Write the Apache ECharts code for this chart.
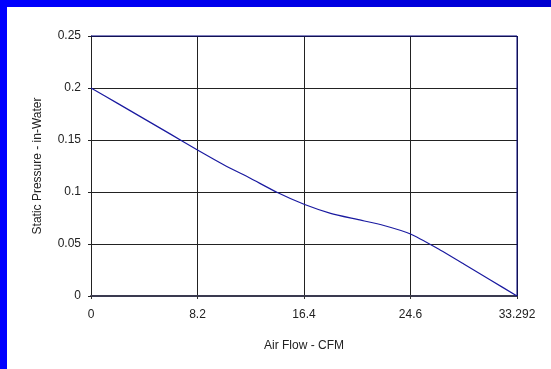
<!DOCTYPE html>
<html>
<head>
<meta charset="utf-8">
<script src="https://cdn.jsdelivr.net/npm/echarts@6/dist/echarts.min.js"></script>
<style>html,body{margin:0;padding:0;background:#fff;}#c{width:551px;height:369px;}</style>
</head>
<body>
<div id="c"></div>
<script>
const airFlow = ['0','2.05','4.1','6.15','8.2','10.25','12.3','14.35','16.4','18.45','20.5','22.55','24.6','26.65','28.7','30.75','33.292'];
const pressure = [0.200,0.1852,0.1703,0.1554,0.1404,0.126,0.113,0.0995,0.0882,0.0795,0.0736,0.0678,0.0596,0.0459,0.0308,0.0154,0];
const yTicks = [0,0.05,0.1,0.15,0.2,0.25];
const xTitle = 'Air Flow - CFM';
const yTitle = 'Static Pressure - in-Water';

const chart = echarts.init(document.getElementById('c'), null, {renderer:'canvas'});
const font = 'Liberation Sans, Arial, sans-serif';
chart.setOption({
  animation:false,
  backgroundColor:'#ffffff',
  graphic:[
    {type:'rect', left:0, top:0, shape:{width:7,height:369}, style:{fill:'#0000ff'}, z:10},
    {type:'rect', left:0, top:0, shape:{width:551,height:7}, style:{fill:new echarts.graphic.LinearGradient(0,0,1,0,[{offset:0,color:'#0000ff'},{offset:1,color:'#0000d0'}])}, z:10},
    {type:'line', shape:{x1:91,y1:36,x2:517,y2:36}, style:{stroke:'#000080',lineWidth:1}, z:5},
    {type:'line', shape:{x1:517,y1:36,x2:517,y2:296}, style:{stroke:'#000080',lineWidth:1}, z:5}
  ],
  grid:{left:91, top:36, width:426, height:260, containLabel:false},
  xAxis:{
    type:'category', data:airFlow, boundaryGap:false,
    name:xTitle, nameLocation:'middle', nameGap:44,
    nameTextStyle:{fontFamily:font,fontSize:12,color:'#222'},
    axisLine:{show:true,lineStyle:{color:'#3a3a50',width:2}},
    axisTick:{show:true,interval:3,length:3,inside:false,lineStyle:{color:'#333'}},
    axisLabel:{interval:3,margin:13,fontFamily:font,fontSize:12,color:'#222'},
    splitLine:{show:true,interval:3,lineStyle:{color:'#222',width:1}}
  },
  yAxis:{
    type:'value', min:yTicks[0], max:yTicks[yTicks.length-1], interval:0.05,
    name:yTitle, nameLocation:'middle', nameGap:47, nameRotate:90,
    nameTextStyle:{fontFamily:font,fontSize:12,color:'#222'},
    axisLine:{show:true,lineStyle:{color:'#222',width:1}},
    axisTick:{show:true,length:3,lineStyle:{color:'#222'}},
    axisLabel:{margin:10,fontFamily:font,fontSize:12,color:'#222',formatter:v=>String(+v.toFixed(2))},
    splitLine:{show:true,lineStyle:{color:'#222',width:1}}
  },
  series:[{
    type:'line', data:pressure, smooth:0.2, showSymbol:false, symbol:'none',
    lineStyle:{color:'#1a1aa0',width:1.2}
  }]
});
</script>
</body>
</html>
